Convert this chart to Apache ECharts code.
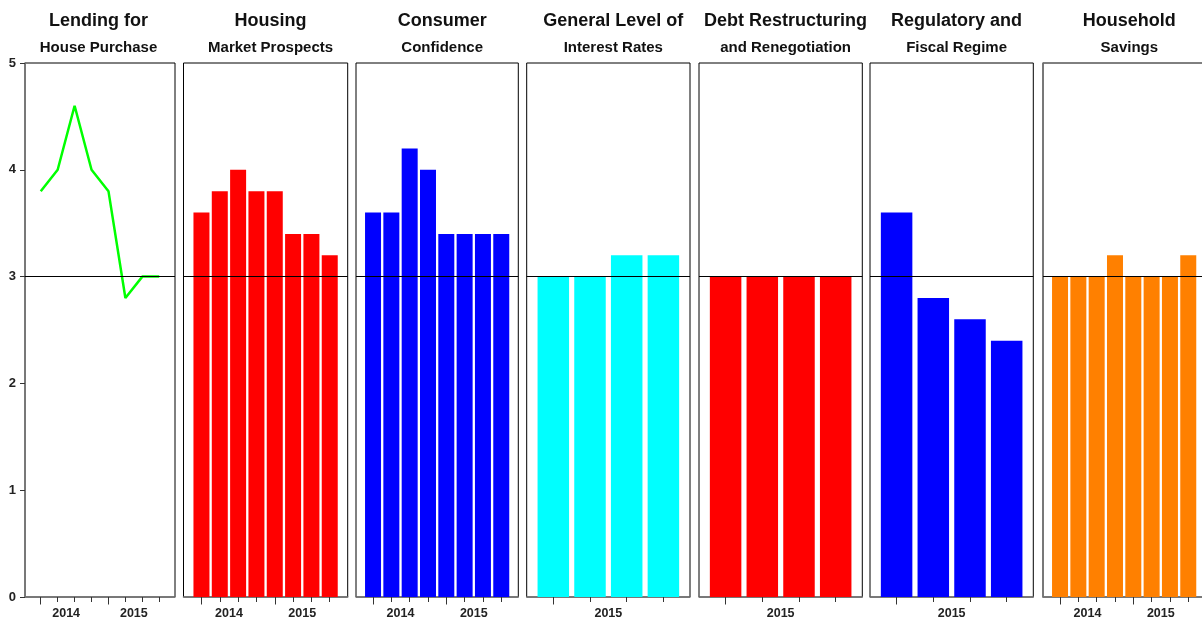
<!DOCTYPE html>
<html>
<head>
<meta charset="utf-8">
<script src="https://cdn.jsdelivr.net/npm/echarts@6/dist/echarts.min.js"></script>
<style>
html,body{margin:0;padding:0;background:#fff;}
#chart{width:1202px;height:621px;}
</style>
</head>
<body>
<div id="chart"></div>
<script>
// ---- data ----
const mainTitles = ['Lending for', 'Housing', 'Consumer', 'General Level of', 'Debt Restructuring', 'Regulatory and', 'Household'];
const subTitles = ['House Purchase', 'Market Prospects', 'Confidence', 'Interest Rates', 'and Renegotiation', 'Fiscal Regime', 'Savings'];
const lendingValues = [3.8, 4.0, 4.6, 4.0, 3.8, 2.8, 3.0, 3.0];
const housingValues = [3.6, 3.8, 4.0, 3.8, 3.8, 3.4, 3.4, 3.2];
const consumerValues = [3.6, 3.6, 4.2, 4.0, 3.4, 3.4, 3.4, 3.4];
const interestValues = [3.0, 3.0, 3.2, 3.2];
const debtValues = [3.0, 3.0, 3.0, 3.0];
const regulatoryValues = [3.6, 2.8, 2.6, 2.4];
const savingsValues = [3.0, 3.0, 3.0, 3.2, 3.0, 3.0, 3.0, 3.2];
const yearLabels8 = ['2014', '2015'];
const yearLabels4 = ['2015'];
const yTicks = [0, 1, 2, 3, 4, 5];
const referenceLevel = 3;

// ---- layout / style ----
const panels = [
  {values: lendingValues, type: 'line', color: '#00ff00', left: 25, width: 150, pad: 0.93, years: yearLabels8},
  {values: housingValues, type: 'bar', color: '#ff0000', left: 183.5, width: 164.2, pad: 0.98, years: yearLabels8},
  {values: consumerValues, type: 'bar', color: '#0000ff', left: 356, width: 162.3, pad: 0.93, years: yearLabels8},
  {values: interestValues, type: 'bar', color: '#00ffff', left: 526.7, width: 163.3, pad: 0.725, years: yearLabels4},
  {values: debtValues, type: 'bar', color: '#ff0000', left: 699, width: 163.3, pad: 0.725, years: yearLabels4},
  {values: regulatoryValues, type: 'bar', color: '#0000ff', left: 870, width: 163.3, pad: 0.725, years: yearLabels4},
  {values: savingsValues, type: 'bar', color: '#ff8000', left: 1043, width: 162.3, pad: 0.93, years: yearLabels8}
];
const titleCenters = [93.5, 265.6, 437.2, 608.3, 780.6, 951.6, 1124.3];
const FONT = '"Liberation Sans", Arial, Helvetica, sans-serif';

const grids = [], xAxes = [], yAxes = [], series = [], titles = [];
panels.forEach((p, i) => {
  const n = p.values.length;
  grids.push({left: p.left, width: p.width, top: 63, bottom: 24, show: true,
    borderColor: '#000', borderWidth: 1, backgroundColor: 'transparent',
    containLabel: false, outerBoundsMode: 'none'});
  const tickVals = p.values.map((v, k) => k);
  const yearStarts = n === 8 ? [0, 4] : [0];
  const labelPos = n === 8 ? [1.5, 5.5] : [1.5];
  xAxes.push({
    type: 'value', gridIndex: i, min: -p.pad, max: n - 1 + p.pad, position: 'bottom',
    axisLine: {show: true, onZero: false, lineStyle: {color: '#777', width: 1.6}},
    axisTick: {show: true, customValues: tickVals, length: 5, lineStyle: {color: '#333', width: 1}},
    axisLabel: {show: true, customValues: labelPos, margin: 10,
      formatter: v => p.years[labelPos.indexOf(v)] || '',
      fontFamily: FONT, fontWeight: 'bold', fontSize: 12.5, color: '#222'},
    splitLine: {show: false}
  });
  xAxes.push({
    type: 'value', gridIndex: i, min: -p.pad, max: n - 1 + p.pad, position: 'bottom',
    axisLine: {show: false, onZero: false},
    axisTick: {show: true, customValues: yearStarts, length: 7.5, lineStyle: {color: '#333', width: 1}},
    axisLabel: {show: false}, splitLine: {show: false}
  });
  const showY = i === 0;
  yAxes.push({
    type: 'value', gridIndex: i, min: 0, max: 5, interval: 1, position: 'left',
    axisLine: {show: i === 0 || i === 6, onZero: false, lineStyle: {color: '#777', width: 1.6}},
    axisTick: {show: showY, length: 5, lineStyle: {color: '#333'}},
    axisLabel: {show: showY, margin: 9, fontFamily: FONT, fontWeight: 'bold', fontSize: 13, color: '#222',
      formatter: v => yTicks.includes(v) ? String(v) : ''},
    splitLine: {show: false}
  });
  const data = p.values.map((v, k) => [k, v]);
  // reference line at 3 (drawn beneath the marks)
  series.push({
    type: 'line', xAxisIndex: 2 * i, yAxisIndex: i, data: data, symbol: 'none', silent: true, z: 1,
    lineStyle: {width: 0, opacity: 0},
    markLine: {silent: true, symbol: 'none', label: {show: false},
      lineStyle: {color: '#000', width: 1, type: 'solid'},
      data: [{yAxis: referenceLevel}], animation: false}
  });
  if (p.type === 'line') {
    series.push({type: 'line', xAxisIndex: 2 * i, yAxisIndex: i, data: data, symbol: 'none', z: 3,
      lineStyle: {color: p.color, width: 2.5}});
  } else {
    series.push({type: 'bar', xAxisIndex: 2 * i, yAxisIndex: i, data: data, z: 3,
      barWidth: n === 8 ? 16 : 31.5,
      itemStyle: {color: p.color}});
  }
  titles.push({text: mainTitles[i], left: titleCenters[i], top: 7, textAlign: 'center',
    textStyle: {fontFamily: FONT, fontWeight: 'bold', fontSize: 18, color: '#111'}});
  titles.push({text: subTitles[i], left: titleCenters[i], top: 35, textAlign: 'center',
    textStyle: {fontFamily: FONT, fontWeight: 'bold', fontSize: 15, color: '#111'}});
});

const chart = echarts.init(document.getElementById('chart'), null, {renderer: 'canvas'});
chart.setOption({
  backgroundColor: '#fff',
  animation: false,
  title: titles,
  grid: grids,
  xAxis: xAxes,
  yAxis: yAxes,
  series: series
});
</script>
</body>
</html>
